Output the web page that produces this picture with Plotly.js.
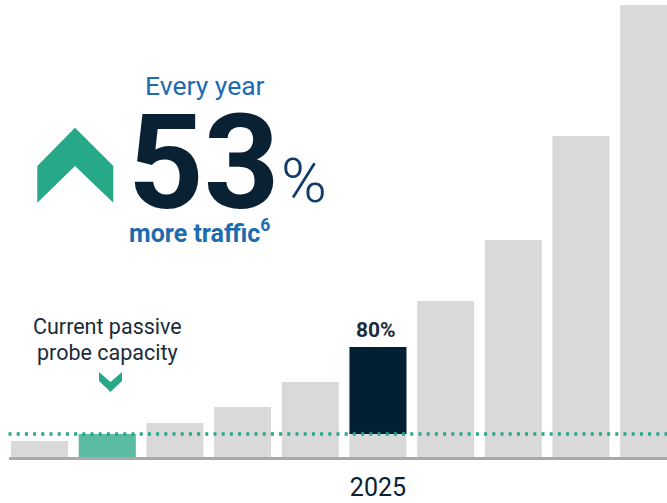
<!DOCTYPE html>
<html>
<head>
<meta charset="utf-8">
<script src="https://cdn.plot.ly/plotly-3.0.1.min.js"></script>
<style>
  html, body { margin: 0; padding: 0; background: #ffffff; }
  #chart { width: 667px; height: 503px; }
</style>
</head>
<body>
<div id="chart"></div>
<script>
// ---- data ----
const periods = [0, 1, 2, 3, 4, 5, 6, 7, 8, 9];
const traffic = [16, 23, 34, 50, 75, 110, 156, 217, 321, 452];
const capacity = 23;
const currentIndex = 1;     // bar that equals current passive probe capacity
const highlightIndex = 5;   // 2025 bar
const tickLabels = ['2025'];
const highlightLabel = '80%';

// ---- layout geometry helpers ----
const W = 667, H = 503, MB = 43;
const PH = H - MB;
const px = v => v / W;
const py = v => 1 - v / PH;

const GRAY = '#d9d9d9', GREEN_BAR = '#5bbba3', DARK = '#031f33', TEAL = '#26a889';
const BLUE = '#1c6cae';
const BW = 0.842;

const traces = [
  {
    type: 'bar', x: periods, y: traffic, width: BW,
    marker: { color: GRAY }, hoverinfo: 'skip'
  },
  {
    type: 'bar', x: [periods[currentIndex]], y: [traffic[currentIndex]], width: BW,
    marker: { color: GREEN_BAR }, hoverinfo: 'skip'
  },
  {
    type: 'bar', x: [periods[highlightIndex]], y: [traffic[highlightIndex] - capacity],
    base: [capacity], width: BW,
    marker: { color: DARK }, hoverinfo: 'skip'
  }
];

function poly(pts) {
  return 'M' + pts.map(p => px(p[0]) + ',' + py(p[1])).join('L') + 'Z';
}

const layout = {
  width: W, height: H,
  margin: { l: 0, r: 0, t: 0, b: MB, pad: 0 },
  paper_bgcolor: '#ffffff', plot_bgcolor: '#ffffff',
  showlegend: false,
  barmode: 'overlay',
  font: { family: 'Roboto, sans-serif' },
  xaxis: {
    range: [-0.585, 9.271], showgrid: false, zeroline: false, showline: false,
    tickvals: [periods[highlightIndex]], ticktext: tickLabels, ticks: '',
    ticklabelstandoff: 10,
    tickfont: { size: 25, color: '#0a2033', family: 'Roboto' },
    fixedrange: true
  },
  yaxis: {
    range: [-3, 457], visible: false, fixedrange: true
  },
  shapes: [
    { type: 'rect', xref: 'paper', yref: 'y', x0: px(9), x1: 1, y0: -3, y1: 0,
      fillcolor: '#a9a9a9', line: { width: 0 } },
    { type: 'line', xref: 'paper', yref: 'y', x0: px(8.5), x1: 1, y0: capacity, y1: capacity,
      line: { color: TEAL, width: 3.5, dash: '3px,5.2px' } },
    { type: 'path', xref: 'paper', yref: 'paper',
      path: poly([[37.3,166],[75,127.7],[113.3,166],[113.3,202.7],[75,166],[37.3,202.7]]),
      fillcolor: TEAL, line: { width: 0 } },
    { type: 'path', xref: 'paper', yref: 'paper',
      path: poly([[99,372],[110.5,382],[122,372],[122,381],[110.5,392],[99,381]]),
      fillcolor: TEAL, line: { width: 0 } }
  ],
  annotations: [
    { xref: 'paper', yref: 'paper', x: px(205.5), y: py(103.5), xanchor: 'center', yanchor: 'bottom',
      text: 'Every year', showarrow: false, font: { size: 26.5, color: BLUE, family: 'Roboto' } },
    { xref: 'paper', yref: 'paper', x: px(203.5), y: py(242), xanchor: 'center', yanchor: 'bottom',
      text: '<b>53</b>', showarrow: false, font: { size: 132, color: '#0a2033', family: 'Roboto' } },
    { xref: 'paper', yref: 'paper', x: px(303.5), y: py(219), xanchor: 'center', yanchor: 'bottom',
      text: '%', showarrow: false, font: { size: 62, color: '#0f3c6b', family: 'Roboto', weight: 300 } },
    { xref: 'paper', yref: 'paper', x: px(199.5), y: py(250), xanchor: 'center', yanchor: 'bottom',
      text: '<b>more traffic<sup>6</sup></b>', showarrow: false, font: { size: 25, color: BLUE, family: 'Roboto' } },
    { xref: 'paper', yref: 'paper', x: px(107.5), y: py(341), xanchor: 'center', yanchor: 'bottom',
      text: 'Current passive', showarrow: false,
      font: { size: 21.5, color: '#1a2b3c', family: 'Roboto' } },
    { xref: 'paper', yref: 'paper', x: px(107.5), y: py(367), xanchor: 'center', yanchor: 'bottom',
      text: 'probe capacity', showarrow: false,
      font: { size: 21.5, color: '#1a2b3c', family: 'Roboto' } },
    { xref: 'x', yref: 'y', x: periods[highlightIndex], y: traffic[highlightIndex], xanchor: 'center', yanchor: 'bottom',
      xshift: -2, yshift: 3, text: '<b>' + highlightLabel + '</b>', showarrow: false,
      font: { size: 21, color: '#1a2b3c', family: 'Roboto' } }
  ]
};

Plotly.newPlot('chart', traces, layout, { displayModeBar: false, staticPlot: true });
</script>
</body>
</html>
